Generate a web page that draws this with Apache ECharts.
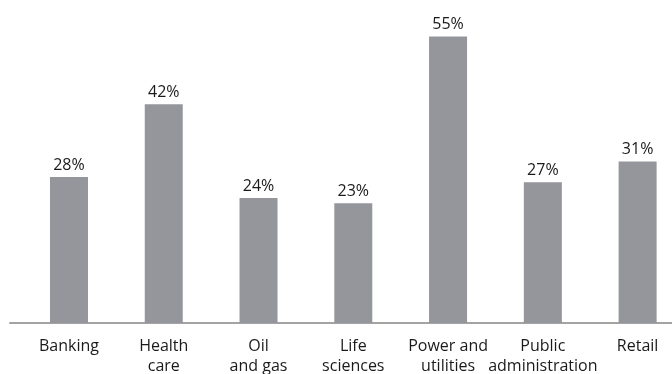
<!DOCTYPE html>
<html>
<head>
<meta charset="utf-8">
<script src="https://cdn.jsdelivr.net/npm/echarts@6/dist/echarts.min.js"></script>
<style>
  html, body { margin: 0; padding: 0; background: #fff; }
  #chart { width: 672px; height: 374px; }
</style>
</head>
<body>
<div id="chart"></div>
<script>
// sectors and share of respondents
const categories = ['Banking', 'Health\ncare', 'Oil\nand gas', 'Life\nsciences', 'Power and\nutilities', 'Public\nadministration', 'Retail'];
const values = [28, 42, 24, 23, 55, 27, 31];

const chart = echarts.init(document.getElementById('chart'));
chart.setOption({
  animation: false,
  textStyle: { fontFamily: 'Open Sans' },
  grid: [
    // bars (band runs a little past the right edge, like the original)
    { left: 21.6, width: 663.4, top: 10.4, bottom: 51, outerBoundsMode: 'none' },
    // base line only
    { left: 10, right: 0, top: 10.4, bottom: 51, outerBoundsMode: 'none' },
  ],
  xAxis: [
    {
      type: 'category',
      gridIndex: 0,
      data: categories,
      axisLine: { show: false },
      axisTick: { show: false },
      axisLabel: {
        color: '#1a1a1a',
        fontSize: 16,
        lineHeight: 20.5,
        margin: 13,
        interval: 0,
      },
    },
    {
      type: 'category',
      gridIndex: 1,
      data: categories,
      axisLine: { show: true, lineStyle: { color: '#a3a3a3', width: 2 } },
      axisTick: { show: false },
      axisLabel: { show: false },
    },
  ],
  yAxis: [
    { type: 'value', gridIndex: 0, min: 0, max: 60, show: false },
    { type: 'value', gridIndex: 1, min: 0, max: 60, show: false },
  ],
  series: [
    {
      type: 'bar',
      xAxisIndex: 0,
      yAxisIndex: 0,
      data: values,
      barWidth: 38,
      itemStyle: { color: '#94969c' },
      label: {
        show: true,
        position: 'top',
        distance: 4,
        color: '#1a1a1a',
        fontSize: 16,
        formatter: '{c}%',
      },
    },
  ],
});
</script>
</body>
</html>
